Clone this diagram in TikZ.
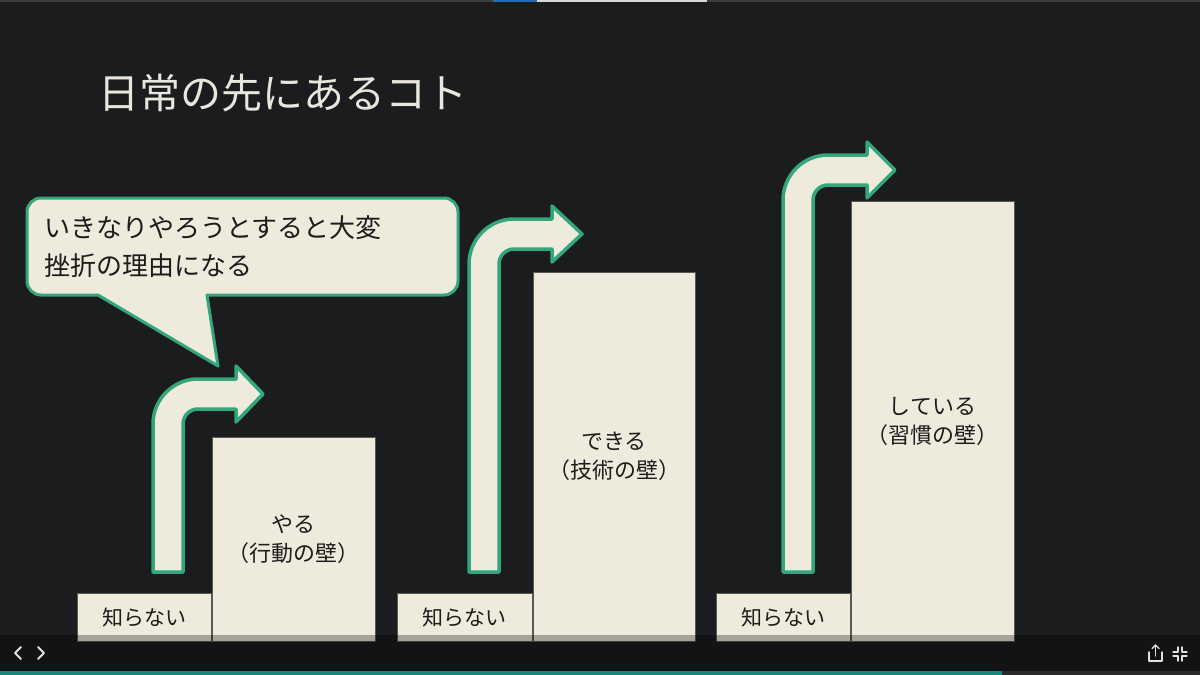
\documentclass[tikz,border=0pt]{standalone}
\usepackage{fontspec}
\newfontfamily\jp{Noto Sans CJK JP}
\definecolor{bgc}{HTML}{1B1C1E}
\definecolor{cream}{HTML}{EEEBDC}
\definecolor{barline}{HTML}{5A5A55}
\definecolor{ink}{HTML}{1C1C1C}
\definecolor{agreen}{HTML}{33A67B}
\definecolor{tealc}{HTML}{17897B}
\definecolor{titlec}{HTML}{E8E6DD}
\definecolor{topgray}{HTML}{3C3D3F}
\definecolor{topblue}{HTML}{1F6FB2}
\definecolor{toplight}{HTML}{D8D8D8}
\definecolor{navicon}{HTML}{E2E2E2}
\definecolor{restbar}{HTML}{2A2B2D}
\tikzset{
  bar/.style={rectangle, fill=cream, draw=barline, line width=1pt, inner sep=0pt,
    font=\jp\fontsize{21}{27}\selectfont, text=ink, align=center},
  tallbar/.style={bar, font=\jp\fontsize{22}{29}\selectfont},
  bentarrow/.style={fill=cream, draw=agreen, line width=3.5pt, line join=round},
  bubble/.style={fill=cream, draw=agreen, line width=3pt, line join=round},
  navstroke/.style={draw=navicon, line width=1.8pt, line cap=round, line join=round},
}
\begin{document}
\begin{tikzpicture}[x=1pt,y=-1pt]
\useasboundingbox (0,0) rectangle (1200,675);
\fill[bgc] (0,0) rectangle (1200,675);
% top strip
\fill[topgray] (0,0) rectangle (1200,2);
\fill[topblue] (493,0) rectangle (537,2);
\fill[toplight] (537,0) rectangle (707,2);
% title
\node[text=titlec, font=\jp\fontsize{41}{45}\selectfont, inner sep=0pt] (title) at (283,93) {日常の先にあるコト};
% bars
\node[bar, minimum width=134pt, minimum height=48pt] (k1) at (144,617) {知らない};
\node[tallbar, minimum width=163pt, minimum height=204pt] (t1) at (293.5,539) {やる\\（行動の壁）};
\node[bar, minimum width=135pt, minimum height=48pt] (k2) at (464.5,617) {知らない};
\node[tallbar, minimum width=162pt, minimum height=369pt] (t2) at (614,456.5) {できる\\（技術の壁）};
\node[bar, minimum width=134pt, minimum height=48pt] (k3) at (783,617) {知らない};
\node[tallbar, minimum width=163pt, minimum height=440pt] (t3) at (932.5,421) {している\\（習慣の壁）};
% bent arrows
\draw[bentarrow] (153,572) -- (153,424) .. controls (153,399.2) and (173.2,379) .. (198,379) -- (236,379) -- (236,366) -- (263,394) -- (236,422) -- (236,409) -- (198,409) .. controls (189.7,409) and (183,415.7) .. (183,424) -- (183,572) -- cycle;
\draw[bentarrow] (469,572) -- (469,264) .. controls (469,239.2) and (489.2,219) .. (514,219) -- (552,219) -- (552,206) -- (582,234) -- (552,262) -- (552,249) -- (514,249) .. controls (505.7,249) and (499,255.7) .. (499,264) -- (499,572) -- cycle;
\draw[bentarrow] (783,572) -- (783,200) .. controls (783,175.2) and (803.2,155) .. (828,155) -- (867,155) -- (867,142) -- (895,170) -- (867,198) -- (867,185) -- (828,185) .. controls (819.7,185) and (813,191.7) .. (813,200) -- (813,572) -- cycle;
% speech bubble
\draw[bubble] (98,295) -- (41,295) .. controls (33.3,295) and (27,288.7) .. (27,281) -- (27,212) .. controls (27,204.3) and (33.3,198) .. (41,198) -- (444,198) .. controls (451.7,198) and (458,204.3) .. (458,212) -- (458,281) .. controls (458,288.7) and (451.7,295) .. (444,295) -- (207,295) -- (218,366) -- cycle;
\node[anchor=west, align=left, text=ink, font=\jp\fontsize{26}{38}\selectfont, inner sep=0pt] (btext) at (44,247) {いきなりやろうとすると大変\\挫折の理由になる};
% nav bar
\fill[black, opacity=0.3] (0,635) rectangle (1200,671);
\fill[tealc] (0,671) rectangle (1002,675);
\fill[restbar] (1002,671) rectangle (1200,675);
\draw[navstroke] (21,647) -- (15,653) -- (21,659);
\draw[navstroke] (38,647) -- (44,653) -- (38,659);
% share icon
\draw[navstroke, line width=1.4pt] (1149,652) -- (1149,661) -- (1162,661) -- (1162,652);
\draw[navstroke, line width=1.4pt] (1155.5,656) -- (1155.5,645);
\draw[navstroke, line width=1.4pt] (1152,648.5) -- (1155.5,645) -- (1159,648.5);
% collapse icon
\draw[navstroke, line width=1.4pt] (1173,652) -- (1178,652) -- (1178,647);
\draw[navstroke, line width=1.4pt] (1187,652) -- (1182,652) -- (1182,647);
\draw[navstroke, line width=1.4pt] (1173,656) -- (1178,656) -- (1178,661);
\draw[navstroke, line width=1.4pt] (1187,656) -- (1182,656) -- (1182,661);
\end{tikzpicture}
\end{document}
